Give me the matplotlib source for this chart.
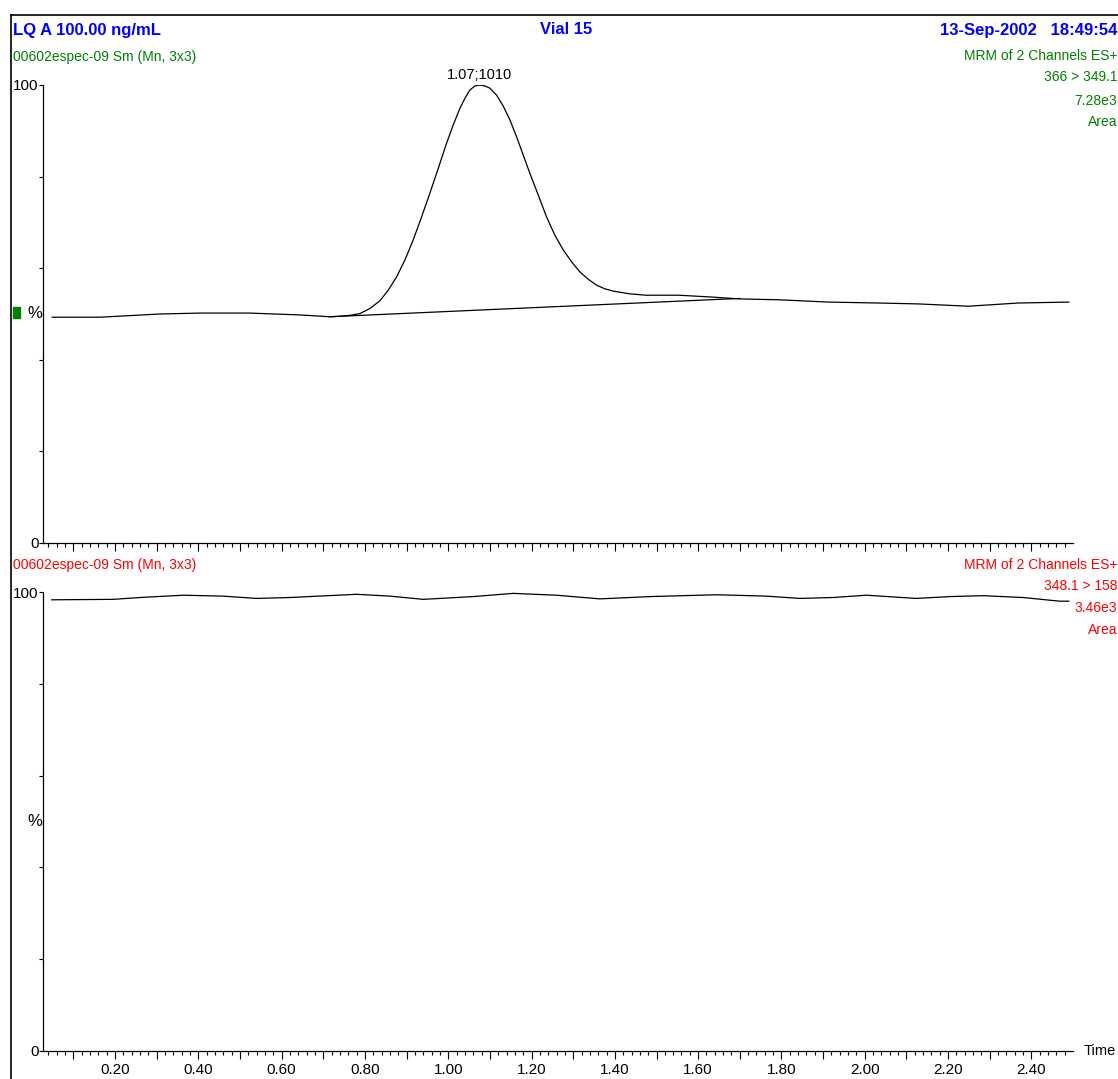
import matplotlib.pyplot as plt
from matplotlib.patches import Rectangle
from matplotlib.lines import Line2D

plt.rcParams['font.family'] = ['Liberation Sans', 'DejaVu Sans']

# === Chromatogram readings (time in min, intensity in %) ===
top_time = [0.049, 0.164, 0.308, 0.404, 0.524, 0.643, 0.716, 0.740, 0.764, 0.788,
            0.812, 0.836, 0.856, 0.876, 0.896, 0.916, 0.936, 0.956, 0.976, 0.996,
            1.012, 1.028, 1.040, 1.052, 1.064, 1.076, 1.088, 1.100, 1.116, 1.132,
            1.148, 1.164, 1.180, 1.196, 1.216, 1.236, 1.256, 1.276, 1.296, 1.316,
            1.336, 1.356, 1.376, 1.396, 1.416, 1.436, 1.475, 1.554, 1.633, 1.698,
            1.794, 1.913, 2.033, 2.129, 2.249, 2.369, 2.490]
top_pct = [49.3, 49.3, 50.0, 50.2, 50.2, 49.8, 49.4, 49.5, 49.7, 50.1,
           51.2, 52.9, 55.2, 58.1, 61.8, 66.2, 71.2, 76.4, 81.8, 87.3,
           91.3, 94.9, 97.1, 98.9, 99.8, 100.0, 99.8, 99.3, 97.8, 95.4,
           92.4, 88.7, 84.7, 80.7, 76.0, 71.2, 67.2, 64.0, 61.4, 59.2,
           57.6, 56.3, 55.5, 55.0, 54.7, 54.4, 54.1, 54.1, 53.7, 53.3,
           53.1, 52.6, 52.4, 52.2, 51.7, 52.4, 52.6]

# integration baseline under the peak
base_time = [0.716, 1.700]
base_pct = [49.4, 53.4]

bot_time = [0.048, 0.196, 0.260, 0.364, 0.460, 0.540, 0.620, 0.780, 0.860, 0.940,
            1.060, 1.156, 1.260, 1.364, 1.484, 1.644, 1.764, 1.844, 1.924, 2.004,
            2.124, 2.204, 2.284, 2.380, 2.468, 2.490]
bot_pct = [98.3, 98.4, 98.8, 99.3, 99.1, 98.6, 98.8, 99.5, 99.1, 98.4,
           99.0, 99.7, 99.3, 98.5, 99.0, 99.4, 99.1, 98.6, 98.8, 99.3,
           98.6, 99.0, 99.2, 98.8, 98.0, 98.0]

peak_label = '1.07;1010'
peak_time = 1.076
peak_pct = 100.0

xtick_pos = [0.1, 0.2, 0.3, 0.4, 0.5, 0.6, 0.7, 0.8, 0.9, 1.0, 1.1, 1.2,
             1.3, 1.4, 1.5, 1.6, 1.7, 1.8, 1.9, 2.0, 2.1, 2.2, 2.3, 2.4]
xtick_labels = ['', '0.20', '', '0.40', '', '0.60', '', '0.80', '', '1.00', '', '1.20',
                '', '1.40', '', '1.60', '', '1.80', '', '2.00', '', '2.20', '', '2.40']
ytick_pos = [0, 20, 40, 60, 80, 100]
ytick_labels = ['0', '', '', '', '', '100']

W, H = 1118, 1079
BLUE = '#0000ff'
GREEN = '#008000'
RED = '#ff0000'

fig = plt.figure(figsize=(W / 100, H / 100), dpi=100)


def fx(x):
    return x / W


def fy(y):
    return 1 - y / H


def make_axes(top_px, bot_px):
    left, right = 43, 1073
    ax = fig.add_axes([fx(left), fy(bot_px), (right - left) / W, (bot_px - top_px) / H])
    ax.set_xlim(0.027, 2.50)
    ax.set_ylim(0, 100)
    for s in ['top', 'right']:
        ax.spines[s].set_visible(False)
    for s in ['left', 'bottom']:
        ax.spines[s].set_linewidth(0.9)
    ax.set_xticks(xtick_pos, xtick_labels)
    ax.set_xticks([i * 0.02 for i in range(2, 125)], minor=True)
    ax.set_yticks(ytick_pos, ytick_labels)
    ax.tick_params(axis='x', which='major', length=6, width=0.8, pad=3, labelsize=11)
    ax.tick_params(axis='x', which='minor', length=3, width=0.8)
    ax.tick_params(axis='y', which='major', length=3, width=0.8, pad=0, labelsize=11)
    ax.text(-0.001, 0.5, '%', transform=ax.transAxes, ha='right', va='center', fontsize=12)
    ax.patch.set_alpha(0)
    return ax


# === Top trace ===
ax1 = make_axes(85, 543)
ax1.plot(top_time, top_pct, color='black', lw=0.9)
ax1.plot(base_time, base_pct, color='black', lw=0.9)
ax1.tick_params(axis='x', labelbottom=False)
ax1.annotate(peak_label, (peak_time, peak_pct), xytext=(0, 2), textcoords='offset points',
             ha='center', va='bottom', fontsize=10.5)

# === Bottom trace ===
ax2 = make_axes(592, 1051)
ax2.plot(bot_time, bot_pct, color='black', lw=0.9)
fig.text(fx(1116), fy(1051), 'Time', ha='right', va='center', fontsize=10.5)

# === Frame and header text ===
fig.add_artist(Line2D([fx(11), fx(11)], [fy(15), 0], color='black', lw=1.2))
fig.add_artist(Line2D([fx(11), 1], [fy(15), fy(15)], color='black', lw=1.2))
fig.add_artist(Rectangle((fx(13), fy(318)), 7 / W, 11 / H, color=GREEN))

fig.text(fx(13), fy(30), 'LQ A 100.00 ng/mL', color=BLUE, fontsize=12, fontweight='bold',
         ha='left', va='center')
fig.text(fx(566), fy(30), 'Vial 15', color=BLUE, fontsize=12, fontweight='bold',
         ha='center', va='center')
fig.text(fx(1117), fy(30), '13-Sep-2002   18:49:54', color=BLUE, fontsize=12,
         fontweight='bold', ha='right', va='center')

fig.text(fx(13), fy(57), '00602espec-09 Sm (Mn, 3x3)', color=GREEN, fontsize=10,
         ha='left', va='center')
for y, s in [(56, 'MRM of 2 Channels ES+'), (77, '366 > 349.1'), (101, '7.28e3'),
             (122, 'Area')]:
    fig.text(fx(1117), fy(y), s, color=GREEN, fontsize=10, ha='right', va='center')

fig.text(fx(13), fy(565), '00602espec-09 Sm (Mn, 3x3)', color=RED, fontsize=10,
         ha='left', va='center')
for y, s in [(565, 'MRM of 2 Channels ES+'), (586, '348.1 > 158'), (608, '3.46e3'),
             (630, 'Area')]:
    fig.text(fx(1117), fy(y), s, color=RED, fontsize=10, ha='right', va='center')

plt.savefig('out.png', dpi=100)
